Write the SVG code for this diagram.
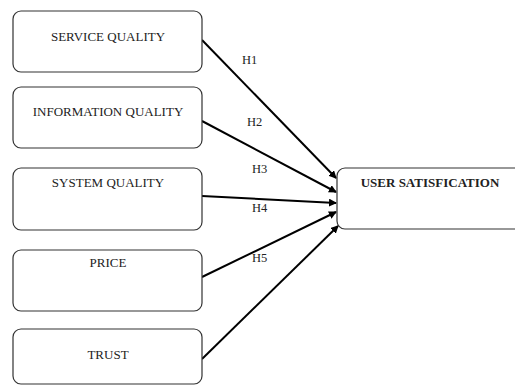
<svg xmlns="http://www.w3.org/2000/svg" width="515" height="385" viewBox="0 0 515 385">
<style>
.box{fill:#fff;stroke:#333;stroke-width:1.2}
.t{font-family:"Liberation Serif",serif;font-size:13px;fill:#222;text-anchor:middle}
.b{font-weight:bold}
.h{font-family:"Liberation Serif",serif;font-size:12.5px;fill:#222}
.c{stroke:#000;stroke-width:2;fill:none;marker-end:url(#ah)}
</style>
<defs>
<marker id="ah" markerWidth="8" markerHeight="8" refX="7" refY="4" orient="auto" markerUnits="userSpaceOnUse">
<path d="M0,0 L8,4 L0,8 z" fill="#000"/>
</marker>
</defs>
<rect width="515" height="385" fill="#fff"/>
<g id="connectors">
<line class="c" x1="202" y1="40" x2="336" y2="178"/>
<line class="c" x1="202" y1="121" x2="336" y2="192"/>
<line class="c" x1="202" y1="196" x2="336" y2="203"/>
<line class="c" x1="202" y1="277" x2="336" y2="212"/>
<line class="c" x1="202" y1="359" x2="338" y2="226"/>
<text class="h" x="242" y="64">H1</text>
<text class="h" x="247" y="126">H2</text>
<text class="h" x="252" y="173">H3</text>
<text class="h" x="252" y="212">H4</text>
<text class="h" x="252" y="262">H5</text>
</g>
<g id="service-quality">
<rect class="box" x="13" y="11" width="189" height="61" rx="8"/>
<text class="t" x="108" y="41">SERVICE QUALITY</text>
</g>
<g id="information-quality">
<rect class="box" x="13" y="87" width="189" height="61" rx="8"/>
<text class="t" x="108" y="116">INFORMATION QUALITY</text>
</g>
<g id="system-quality">
<rect class="box" x="13" y="168" width="189" height="62" rx="8"/>
<text class="t" x="108" y="187">SYSTEM QUALITY</text>
</g>
<g id="price">
<rect class="box" x="13" y="250" width="189" height="61" rx="8"/>
<text class="t" x="108" y="267">PRICE</text>
</g>
<g id="trust">
<rect class="box" x="13" y="329" width="189" height="55" rx="8"/>
<text class="t" x="108" y="359">TRUST</text>
</g>
<g id="user-satisfication">
<rect class="box" x="337" y="168" width="190" height="61" rx="8"/>
<text class="t b" x="430" y="187">USER SATISFICATION</text>
</g>
</svg>
